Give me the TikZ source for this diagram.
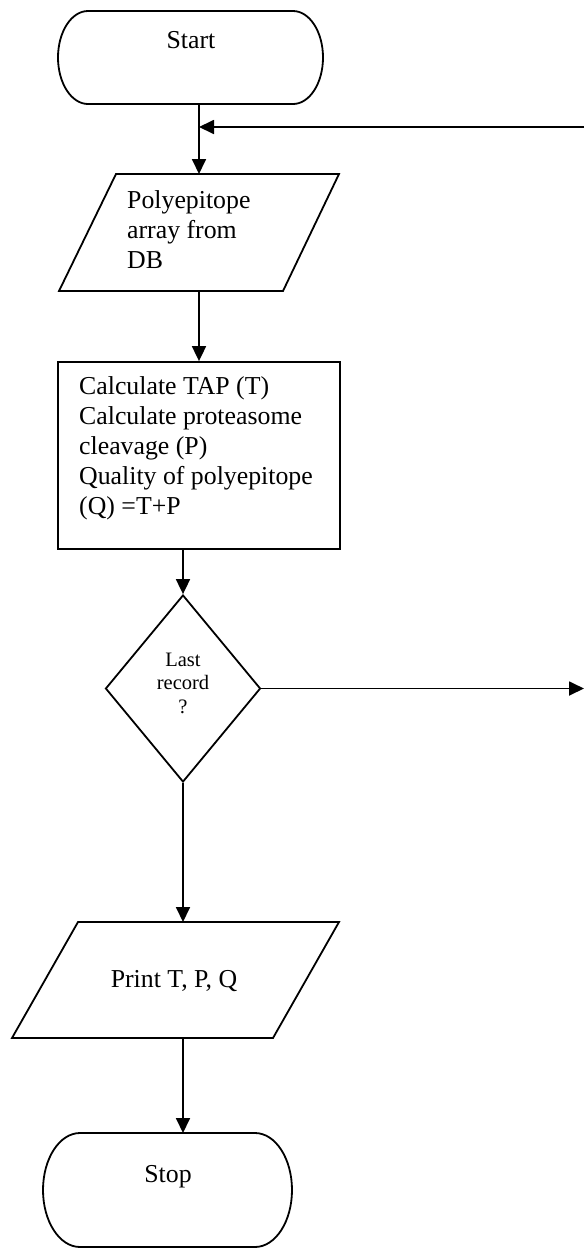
\documentclass[tikz,border=0pt]{standalone}
\usepackage{fontspec}
\setmainfont{Liberation Serif}
\usetikzlibrary{arrows.meta,shapes.geometric}
\begin{document}
\begin{tikzpicture}[x=1pt,y=1pt,
  outl/.style={line width=1.8pt, line join=miter},
  arr/.style={-{Triangle[length=15pt,width=14pt]}, line width=1.8pt},
  ghost/.style={draw=none, inner sep=0pt, outer sep=0pt},
  maintxt/.style={font=\fontsize{25.8}{30}\selectfont, inner sep=0pt, align=left},
  ctrtxt/.style={font=\fontsize{25.8}{30}\selectfont, inner sep=0pt, align=center},
  smalltxt/.style={font=\fontsize{20.5}{23.5}\selectfont, inner sep=0pt, align=center},
]
\useasboundingbox[fill=white] (0,0) rectangle (584,-1248);

% Start terminal
\node[ghost, minimum width=265pt, minimum height=93pt] (start) at (190.5,-57.5) {};
\draw[outl] ([xshift=30pt]start.north west) -- ([xshift=-30pt]start.north east)
  arc[start angle=90,end angle=-90,x radius=30pt,y radius=46.5pt]
  -- ([xshift=30pt]start.south west)
  arc[start angle=270,end angle=90,x radius=30pt,y radius=46.5pt] -- cycle;
\node[ctrtxt, anchor=base] (starttxt) at (191,-48) {Start};

% Polyepitope input
\node[ghost, minimum width=280pt, minimum height=117pt] (poly) at (199,-232.5) {};
\draw[outl] ([xshift=57pt]poly.north west) -- (poly.north east)
  -- ([xshift=-56pt]poly.south east) -- (poly.south west) -- cycle;
\node[maintxt, anchor=base west] (polytxt) at (127,-268) {Polyepitope\\array from\\DB};

% Process box
\node[draw, outl, minimum width=282pt, minimum height=187pt, inner sep=0pt] (proc) at (199,-455.5) {};
\node[maintxt, anchor=base west] (proctxt) at (79,-514) {Calculate TAP (T)\\Calculate proteasome\\cleavage (P)\\Quality of polyepitope\\(Q) =T+P};

% Decision
\node[draw, outl, diamond, minimum width=155pt, minimum height=187pt, inner sep=0pt] (dec) at (183,-688.5) {};
\node[smalltxt, anchor=base] (dectxt) at (183,-713) {Last\\record\\?};

% Print output
\node[ghost, minimum width=327pt, minimum height=116pt] (print) at (175.5,-980) {};
\draw[outl] ([xshift=66pt]print.north west) -- (print.north east)
  -- ([xshift=-66pt]print.south east) -- (print.south west) -- cycle;
\node[ctrtxt, anchor=base] (printtxt) at (174,-987) {Print T, P, Q};

% Stop terminal
\node[ghost, minimum width=249pt, minimum height=114pt] (stop) at (167.5,-1190) {};
\draw[outl] ([xshift=37pt]stop.north west) -- ([xshift=-37pt]stop.north east)
  arc[start angle=90,end angle=-90,x radius=37pt,y radius=57pt]
  -- ([xshift=37pt]stop.south west)
  arc[start angle=270,end angle=90,x radius=37pt,y radius=57pt] -- cycle;
\node[ctrtxt, anchor=base] (stoptxt) at (168,-1182) {Stop};

% loop-in and out coordinates
\coordinate (loopin) at (584,-127);
\coordinate (join) at (199,-127);
\coordinate (decout) at (584,-688.5);

% connectors
\draw[arr] ([xshift=8.5pt]start.south) -- (poly.north);
\draw[arr] (loopin) -- (join);
\draw[arr] (poly.south) -- (proc.north);
\draw[arr] ([xshift=-16pt]proc.south) -- (dec.north);
\draw[arr] (dec.east) -- (decout);
\draw[arr] (dec.south) -- ([xshift=7.5pt]print.north);
\draw[arr] ([xshift=7.5pt]print.south) -- ([xshift=15.5pt]stop.north);
\end{tikzpicture}
\end{document}
